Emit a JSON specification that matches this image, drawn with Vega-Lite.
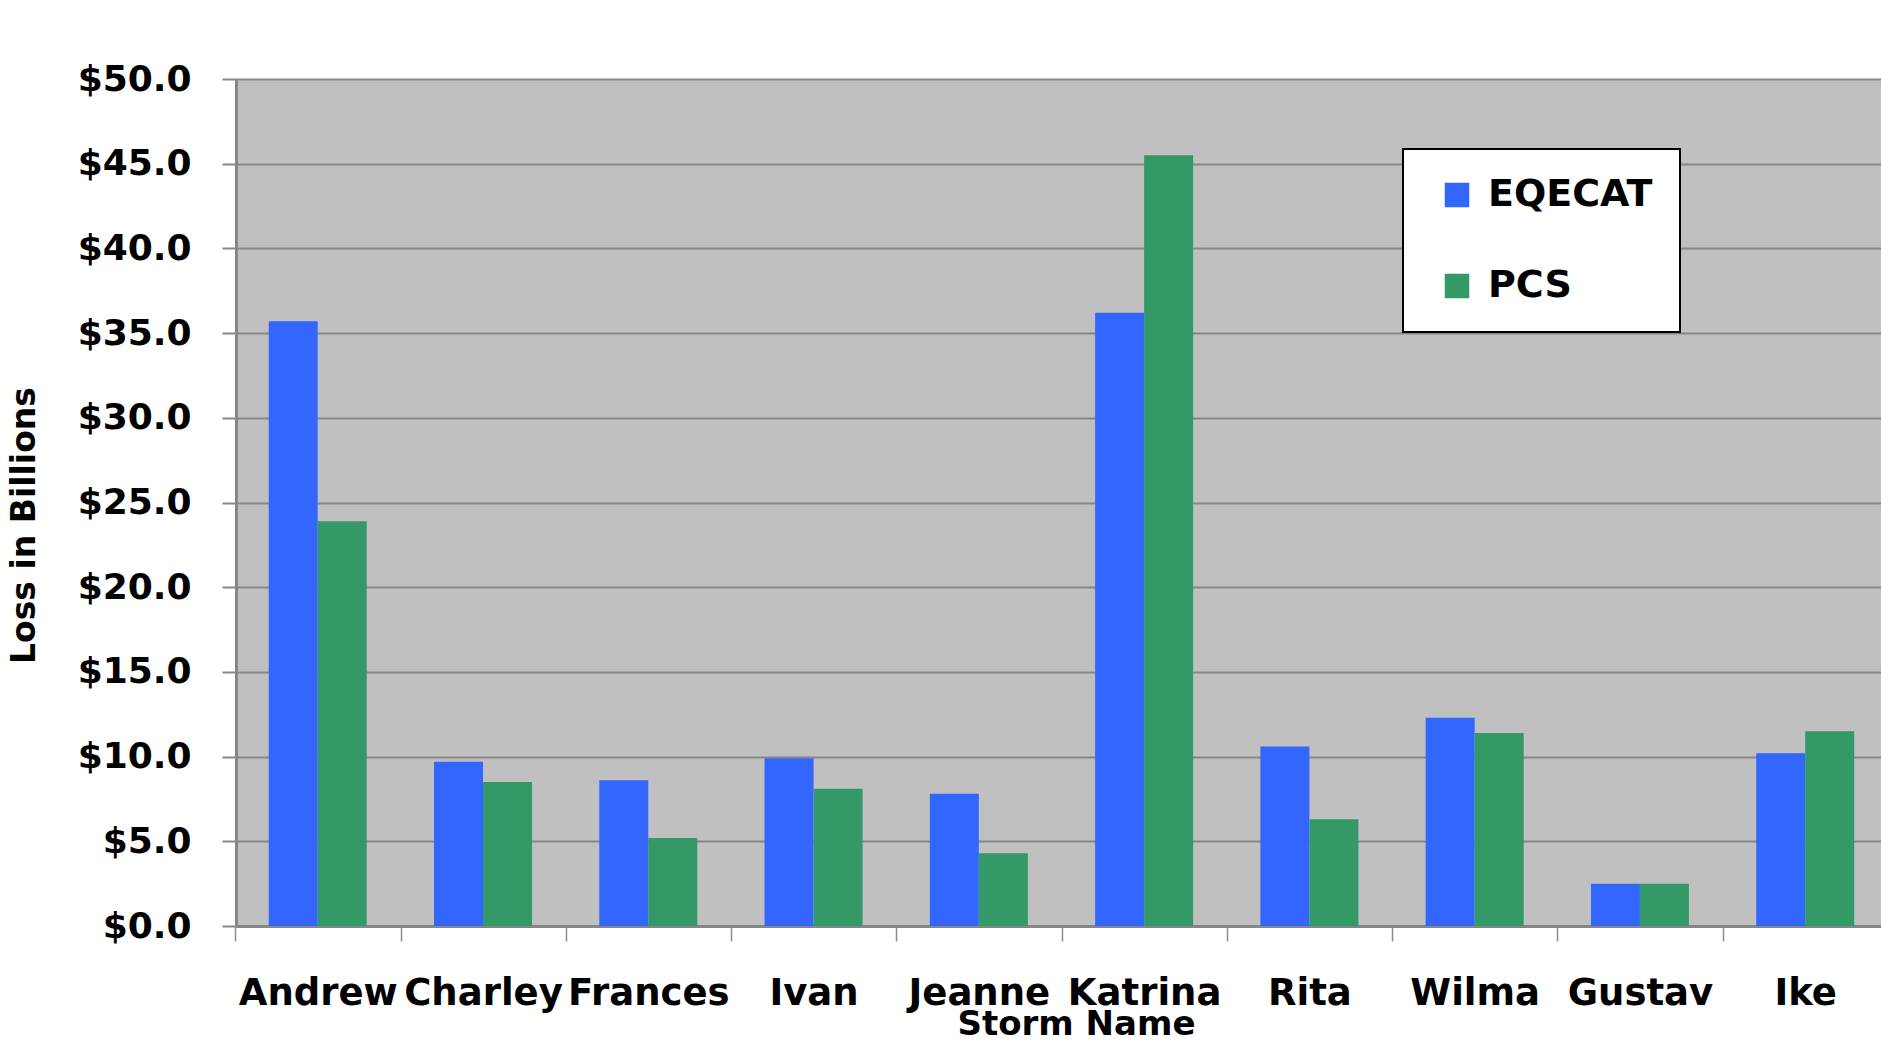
{
  "$schema": "https://vega.github.io/schema/vega-lite/v6.json",
  "autosize": {"type": "none"},
  "padding": {"left": 236, "top": 79, "right": 0, "bottom": 136},
  "width": 1645,
  "height": 847,
  "background": "white",
  "data": {
    "values": [
      {"storm": "Andrew", "source": "EQECAT", "loss": 35.7},
      {"storm": "Andrew", "source": "PCS", "loss": 23.9},
      {"storm": "Charley", "source": "EQECAT", "loss": 9.7},
      {"storm": "Charley", "source": "PCS", "loss": 8.5},
      {"storm": "Frances", "source": "EQECAT", "loss": 8.6},
      {"storm": "Frances", "source": "PCS", "loss": 5.2},
      {"storm": "Ivan", "source": "EQECAT", "loss": 9.9},
      {"storm": "Ivan", "source": "PCS", "loss": 8.1},
      {"storm": "Jeanne", "source": "EQECAT", "loss": 7.8},
      {"storm": "Jeanne", "source": "PCS", "loss": 4.3},
      {"storm": "Katrina", "source": "EQECAT", "loss": 36.2},
      {"storm": "Katrina", "source": "PCS", "loss": 45.5},
      {"storm": "Rita", "source": "EQECAT", "loss": 10.6},
      {"storm": "Rita", "source": "PCS", "loss": 6.3},
      {"storm": "Wilma", "source": "EQECAT", "loss": 12.3},
      {"storm": "Wilma", "source": "PCS", "loss": 11.4},
      {"storm": "Gustav", "source": "EQECAT", "loss": 2.5},
      {"storm": "Gustav", "source": "PCS", "loss": 2.5},
      {"storm": "Ike", "source": "EQECAT", "loss": 10.2},
      {"storm": "Ike", "source": "PCS", "loss": 11.5}
    ]
  },
  "mark": {"type": "bar"},
  "encoding": {
    "x": {
      "field": "storm",
      "type": "nominal",
      "sort": ["Andrew", "Charley", "Frances", "Ivan", "Jeanne", "Katrina", "Rita", "Wilma", "Gustav", "Ike"],
      "scale": {"paddingInner": 0.407, "paddingOuter": 0.18, "align": 0.55},
      "axis": {
        "title": "Storm Name",
        "titleFont": "DejaVu Sans",
        "titleFontSize": 34,
        "titleFontWeight": "bold",
        "titleColor": "black",
        "titleX": 840,
        "titleY": 108,
        "titleAlign": "center",
        "titleBaseline": "alphabetic",
        "labelAngle": 0,
        "labelFont": "DejaVu Sans",
        "labelFontSize": 37,
        "labelFontWeight": "bold",
        "labelColor": "black",
        "labelBaseline": "alphabetic",
        "labelPadding": 63,
        "labelOverlap": false,
        "labelLimit": 0,
        "tickOffset": -82.5,
        "labelOffset": 82.5,
        "tickSize": 15,
        "tickColor": "#8c8c8c",
        "tickWidth": 1.5,
        "domainColor": "#868686",
        "domainWidth": 3,
        "grid": false
      }
    },
    "xOffset": {"field": "source", "type": "nominal", "sort": ["EQECAT", "PCS"], "scale": {"paddingInner": 0, "paddingOuter": 0}},
    "y": {
      "field": "loss",
      "type": "quantitative",
      "scale": {"domain": [0, 50], "nice": false},
      "axis": {
        "title": "Loss in Billions",
        "titleFont": "DejaVu Sans",
        "titleFontSize": 33,
        "titleFontWeight": "bold",
        "titleColor": "black",
        "titleX": -212,
        "titleY": 446,
        "titleAngle": -90,
        "titleAlign": "center",
        "titleBaseline": "middle",
        "values": [0, 5, 10, 15, 20, 25, 30, 35, 40, 45, 50],
        "format": "$.1f",
        "labelFont": "DejaVu Sans",
        "labelFontSize": 36,
        "labelFontWeight": "bold",
        "labelColor": "black",
        "labelPadding": 31,
        "labelBaseline": "middle",
        "tickSize": 14,
        "tickColor": "#868686",
        "tickWidth": 2,
        "domainColor": "#868686",
        "domainWidth": 3,
        "grid": true,
        "gridColor": "#868686",
        "gridWidth": 2
      }
    },
    "color": {
      "field": "source",
      "type": "nominal",
      "scale": {"domain": ["EQECAT", "PCS"], "range": ["#3366FF", "#339966"]},
      "legend": {
        "title": null,
        "orient": "none",
        "legendX": 1167,
        "legendY": 70,
        "padding": 27,
        "symbolOffset": 8,
        "fillColor": "white",
        "strokeColor": "black",
        "symbolType": "square",
        "symbolSize": 600,
        "symbolStrokeWidth": 0,
        "labelFont": "DejaVu Sans",
        "labelFontSize": 38,
        "labelFontWeight": "bold",
        "labelColor": "black",
        "labelLimit": 0,
        "labelOffset": 12,
        "rowPadding": 53
      }
    }
  },
  "config": {
    "view": {"fill": "#C0C0C0", "stroke": null},
    "legend": {"strokeWidth": 2}
  }
}
